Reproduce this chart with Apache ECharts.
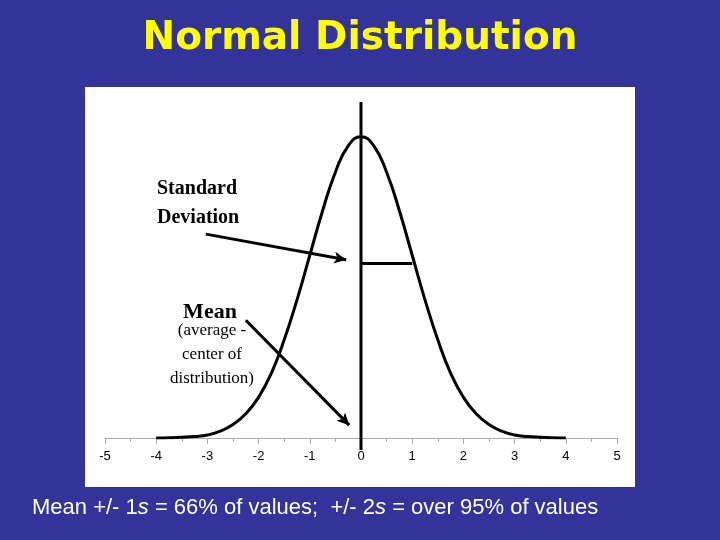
<!DOCTYPE html>
<html><head><meta charset="utf-8">
<script src="https://cdn.jsdelivr.net/npm/echarts@6/dist/echarts.min.js"></script>
<style>body{margin:0;background:#333399}#main{width:720px;height:540px}</style>
</head><body><div id="main"></div>
<script>
// curve (density-like heights)
var xs = [-4,-3.75,-3.5,-3.25,-3,-2.75,-2.5,-2.25,-2,-1.75,-1.5,-1.25,-1,-0.75,-0.5,-0.25,0,0.25,0.5,0.75,1,1.25,1.5,1.75,2,2.25,2.5,2.75,3,3.25,3.5,3.75,4];
var ys = [0.0001,0.0004,0.001,0.002,0.004,0.009,0.018,0.032,0.054,0.086,0.130,0.183,0.242,0.301,0.352,0.387,0.399,0.387,0.352,0.301,0.242,0.183,0.130,0.086,0.054,0.032,0.018,0.009,0.004,0.002,0.001,0.0004,0.0001];
var sdLine = [[0,0.231],[1,0.231]];
var meanLine = [[0,-0.016],[0,0.445]];
var arrowSD = [[-3.03,0.270],[-0.29,0.236]];
var arrowMean = [[-2.25,0.156],[-0.23,0.017]];

var myChart = echarts.init(document.getElementById('main'));
var pts = xs.map(function(x,i){return [x,ys[i]];});
function arrow(a){
  return [{coord:a[0],symbol:'none'},{coord:a[1],symbol:'arrow',symbolSize:[9,12]}];
}
var serif = '"Liberation Serif"';
option = {
  backgroundColor:'#333399',
  animation:false,
  title:{text:'Normal Distribution',left:'center',top:14,
    textStyle:{color:'#ffff00',fontSize:39,fontWeight:'bold',fontFamily:'DejaVu Sans'}},
  graphic:[
    {type:'rect',z:-10,shape:{x:85,y:87,width:550,height:400},style:{fill:'#fff'}},
    {type:'text',left:157,top:174,style:{text:'Standard\nDeviation',font:'bold 20px '+serif,fill:'#000',lineHeight:29}},
    {type:'text',x:210,y:301,style:{text:'Mean',font:'bold 22px '+serif,fill:'#000',align:'center'}},
    {type:'text',x:212,y:319,style:{text:'(average -\ncenter of\ndistribution)',font:'17px '+serif,fill:'#000',align:'center',lineHeight:24}},
    {type:'text',left:32,top:497,style:{rich:{n:{fontSize:22,fontFamily:'Liberation Sans',fill:'#fff'},i:{fontSize:22,fontFamily:'Liberation Sans',fontStyle:'italic',fill:'#fff'}},
      text:'{n|Mean +/- 1}{i|s}{n| = 66% of values;  +/- 2}{i|s}{n| = over 95% of values}'}}
  ],
  grid:{left:105,right:103,top:102,bottom:102},
  xAxis:{type:'value',min:-5,max:5,interval:1,splitLine:{show:false},
    axisLine:{lineStyle:{color:'#aaa'}},axisTick:{length:6,lineStyle:{color:'#aaa'}},
    minorTick:{show:true,splitNumber:2,length:4,lineStyle:{color:'#aaa'}},
    axisLabel:{color:'#000',fontSize:13,fontFamily:'Liberation Sans',margin:12}},
  yAxis:{type:'value',min:0,max:0.445,show:false},
  series:[
    {type:'line',data:meanLine,clip:false,symbol:'none',lineStyle:{color:'#000',width:3}},
    {type:'line',data:pts,smooth:true,symbol:'none',lineStyle:{color:'#000',width:3},
    markLine:{silent:true,symbol:'none',label:{show:false},lineStyle:{color:'#000',width:3,type:'solid'},
      data:[
        [{coord:sdLine[0]},{coord:sdLine[1]}],
        arrow(arrowSD),arrow(arrowMean)
      ]}}]
};
myChart.setOption(option);
</script></body></html>
